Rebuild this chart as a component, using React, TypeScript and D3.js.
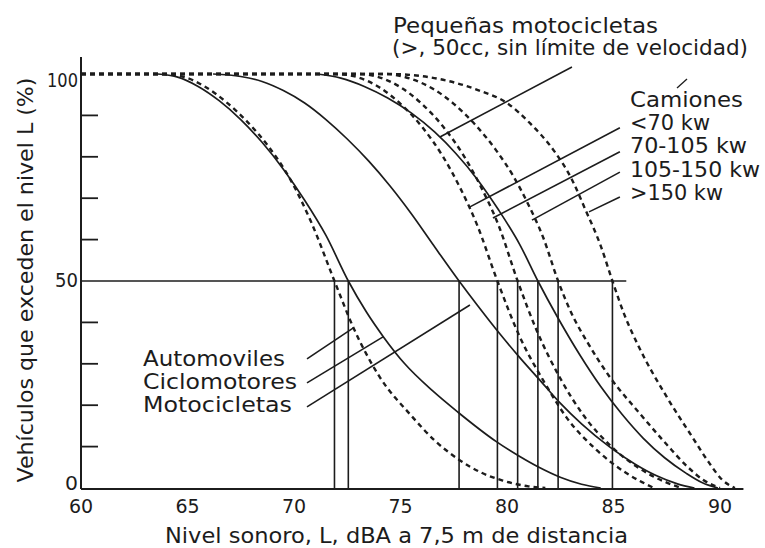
import React from 'react';
import * as d3 from 'd3';

const width = 765;
const height = 548;

const xTicks = [60, 65, 70, 75, 80, 85, 90];
const yLabels = [0, 50, 100];
const yMinorTicks = [10, 20, 30, 40, 60, 70, 80, 90];

// [nivel sonoro dBA, % de vehiculos que exceden el nivel]
const automoviles = [
  [60, 100], [63.6, 100], [64.8, 99.3], [65.8, 97], [66.8, 93.3], [67.8, 88.5], [68.8, 82.5],
  [69.8, 74.8], [70.8, 64.3], [71.9, 50], [72.8, 38.6], [74, 27], [75.5, 17.5], [76.6, 11.5],
  [77.7, 7], [78.8, 3.7], [79.8, 1.8], [81, 0.4], [81.8, 0],
];
const ciclomotores = [
  [63.6, 100], [64.5, 99.3], [65.5, 97], [66.5, 93.5], [67.5, 89], [68.5, 83.5], [69.5, 77],
  [70.5, 69.5], [71.5, 61], [72.55, 50], [73.4, 42.5], [74.2, 36.5], [75.2, 30], [76.5, 23.5],
  [77.7, 18.3], [79.5, 11.2], [80.6, 7.6], [81.5, 5], [82.5, 2.6], [83.5, 0.9], [84.4, 0],
];
const motocicletas = [
  [66.2, 100], [67.5, 99.4], [68.5, 98.2], [69.5, 96], [70.5, 93], [71.5, 89], [72.5, 84.3],
  [73.5, 79], [74.5, 73], [75.5, 66.3], [76.5, 59], [77.75, 50], [78.6, 44.2], [79.7, 37],
  [80.6, 31.5], [81.5, 26.3], [82.5, 20.5], [83.5, 15.5], [84.8, 10], [86, 5.8], [87, 3],
  [88, 1], [88.8, 0],
];
const pequenasMotos = [
  [71.1, 100], [72.2, 99], [73.3, 97], [74.4, 94.2], [75.5, 90.6], [76.6, 86], [77.6, 80.8],
  [78.6, 74.6], [79.6, 67.2], [80.6, 58.8], [81.45, 50], [82.4, 41], [83.4, 32.3],
  [84.4, 24.5], [85.4, 17.8], [86.4, 12], [87.4, 7.3], [88.4, 3.6], [89.2, 1.2], [89.9, 0],
];
const camiones70 = [
  [60, 100], [72, 100], [73, 99.2], [74, 96.8], [75, 92.8], [76, 87.3], [77, 80], [77.8, 72.5],
  [78.6, 63.5], [79.55, 50], [80.6, 36.5], [81.7, 26], [82.8, 17], [84.2, 9.2], [85.6, 3.6],
  [86.9, 0],
];
const camiones105 = [
  [60, 100], [73, 100], [74, 99.2], [75, 96.8], [76, 92.8], [77, 87.3], [78, 80], [78.8, 72.5],
  [79.6, 63.5], [80.5, 50], [81.4, 38], [82.5, 26.5], [83.6, 17.5], [84.9, 10], [86.2, 4.8],
  [87.4, 1.5], [88.2, 0],
];
const camiones150 = [
  [60, 100], [74.3, 100], [75.5, 98.8], [76.5, 96.5], [77.5, 92.8], [78.5, 87.8], [79.5, 81.5],
  [80.3, 75.3], [81, 68.5], [81.7, 60.5], [82.4, 50], [83, 42.5], [83.8, 35], [84.8, 27],
  [86.2, 18.2], [87.5, 10.5], [88.5, 5], [89.2, 2], [90, 0],
];
const camionesMas150 = [
  [60, 100], [74.5, 100], [77, 98.6], [78.7, 96], [80, 93], [81.1, 88], [82.2, 81.5], [83, 75],
  [83.7, 67], [84.4, 58.5], [84.95, 50], [85.5, 42], [86.2, 34], [87.5, 22], [88.7, 12.3],
  [89.5, 6], [90.1, 2], [90.7, 0],
];

const series = [
  { name: 'Automoviles', data: automoviles, dashed: true, median: 71.9 },
  { name: 'Ciclomotores', data: ciclomotores, dashed: false, median: 72.55 },
  { name: 'Motocicletas', data: motocicletas, dashed: false, median: 77.75 },
  { name: 'Camiones <70 kw', data: camiones70, dashed: true, median: 79.55 },
  { name: 'Camiones 70-105 kw', data: camiones105, dashed: true, median: 80.5 },
  { name: 'Pequeñas motocicletas', data: pequenasMotos, dashed: false, median: 81.45 },
  { name: 'Camiones 105-150 kw', data: camiones150, dashed: true, median: 82.4 },
  { name: 'Camiones >150 kw', data: camionesMas150, dashed: true, median: 84.95 },
];

// lineas de referencia (desde el texto hasta la curva), en unidades del grafico
const leaders = [
  { from: [83.05, 101.7], to: [76.85, 84.8] },
  { from: [85.3, 87.0], to: [78.26, 67.9] },
  { from: [85.3, 81.2], to: [79.34, 65.2] },
  { from: [85.3, 76.3], to: [81.17, 64.7] },
  { from: [85.3, 70.3], to: [83.85, 66.7] },
  { from: [70.61, 31.2], to: [72.77, 38.6] },
  { from: [70.61, 25.4], to: [74.18, 36.5] },
  { from: [70.61, 19.6], to: [78.26, 44.2] },
];

const labels = [
  { text: 'Pequeñas motocicletas', x: 393, y: 33, w: 265 },
  { text: '(>, 50cc, sin límite de velocidad)', x: 392, y: 55, w: 356 },
  { text: 'Camiones', x: 630, y: 107, w: 113 },
  { text: '<70 kw', x: 630, y: 130, w: 80 },
  { text: '70-105 kw', x: 630, y: 153, w: 117 },
  { text: '105-150 kw', x: 630, y: 177, w: 130 },
  { text: '>150 kw', x: 630, y: 200, w: 93 },
  { text: 'Automoviles', x: 143, y: 366, w: 142 },
  { text: 'Ciclomotores', x: 143, y: 389, w: 154 },
  { text: 'Motocicletas', x: 143, y: 412, w: 149 },
];

const ink = '#1c1c1c';
const font = '"DejaVu Sans", "Liberation Sans", sans-serif';

export default function App() {
  const x = d3.scaleLinear().domain([60, 90]).range([81, 720]);
  const y = d3.scaleLinear().domain([0, 100]).range([488, 74]);

  const line = d3
    .line<number[]>()
    .x((d) => x(d[0]))
    .y((d) => y(d[1]))
    .curve(d3.curveMonotoneX);

  const yLabelDy: Record<number, number> = { 0: 2, 50: 6, 100: 13 };
  const yLabelW: Record<number, number> = { 0: 13, 50: 23, 100: 31 };

  return (
    <svg
      width={width}
      height={height}
      style={{ position: 'absolute', left: 0, top: 0, background: '#fff' }}
      fontFamily={font}
    >
      <rect width={width} height={height} fill="#fff" />

      {/* ejes */}
      <line x1={x(60)} x2={x(60)} y1={y(0) + 1} y2={y(100) - 17} stroke={ink} strokeWidth={2} />
      <line x1={x(60)} x2={x(91.1)} y1={y(0) + 1} y2={y(0) + 1} stroke={ink} strokeWidth={2} />
      {yMinorTicks.map((t) => (
        <line key={t} x1={x(60)} x2={x(60) + 17} y1={y(t)} y2={y(t)} stroke={ink} strokeWidth={1.8} />
      ))}
      {yLabels.map((t) => (
        <text
          key={t}
          x={78}
          y={y(t) + yLabelDy[t]}
          textAnchor="end"
          fontSize={20}
          fill={ink}
          textLength={yLabelW[t]}
          lengthAdjust="spacingAndGlyphs"
        >
          {t}
        </text>
      ))}
      {xTicks.map((t) => (
        <text key={t} x={x(t)} y={513} textAnchor="middle" fontSize={19} fill={ink}>
          {t}
        </text>
      ))}

      {/* linea del 50% */}
      <line x1={x(60)} x2={x(85.6)} y1={y(50)} y2={y(50)} stroke={ink} strokeWidth={1.5} />

      {/* verticales en la mediana de cada curva */}
      {series.map((s) => (
        <line
          key={'v' + s.name}
          x1={x(s.median)}
          x2={x(s.median)}
          y1={y(50)}
          y2={y(0)}
          stroke={ink}
          strokeWidth={1.6}
        />
      ))}

      {/* curvas */}
      {series.map((s) => (
        <path
          key={s.name}
          d={line(s.data) || ''}
          fill="none"
          stroke={ink}
          strokeWidth={s.dashed ? 2.4 : 1.7}
          strokeDasharray={s.dashed ? '5 4' : undefined}
        />
      ))}

      {/* lineas de referencia */}
      {leaders.map((l, i) => (
        <line
          key={'l' + i}
          x1={x(l.from[0])}
          y1={y(l.from[1])}
          x2={x(l.to[0])}
          y2={y(l.to[1])}
          stroke={ink}
          strokeWidth={1.6}
        />
      ))}
      <line x1={677} y1={88} x2={687} y2={79} stroke={ink} strokeWidth={1.3} />

      {labels.map((l) => (
        <text
          key={l.text}
          x={l.x}
          y={l.y}
          fontSize={21}
          fill={ink}
          textLength={l.w}
          lengthAdjust="spacingAndGlyphs"
        >
          {l.text}
        </text>
      ))}

      {/* titulos */}
      <text x={165} y={543} fontSize={21} fill={ink} textLength={463} lengthAdjust="spacingAndGlyphs">
        Nivel sonoro, L, dBA a 7,5 m de distancia
      </text>
      <text
        transform={`translate(33, ${280}) rotate(-90)`}
        textAnchor="middle"
        fontSize={21}
        fill={ink}
        textLength={405}
        lengthAdjust="spacingAndGlyphs"
      >
        Vehículos que exceden el nivel L (%)
      </text>
    </svg>
  );
}
